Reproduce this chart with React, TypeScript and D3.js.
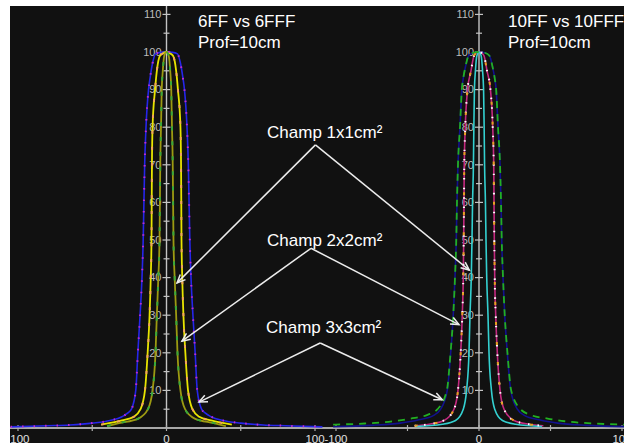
import React from 'react';
import * as d3 from 'd3';

// profiles: off-axis position (mm) vs relative dose (%), depth 10 cm
const ff6_3x3_x = [-105, -80, -65, -50, -38, -30, -26, -23.6, -20.7, -19.3, -17.8, -16.5, -15.7, -15.2, -14.7, -13.8, -12.1, -11.1, -9.4, -7.4, -4, 0, 4, 7.4, 9.4, 11.1, 12.1, 13.8, 14.7, 15.2, 15.7, 16.5, 17.8, 19.3, 20.7, 23.6, 26, 30, 38, 50, 65, 80, 105];
const ff6_3x3_y = [0.3, 0.6, 0.8, 1.3, 2, 3, 4, 5, 10, 20, 30, 40, 50, 60, 70, 80, 90, 93, 97, 99.5, 99.9, 100, 99.9, 99.5, 97, 93, 90, 80, 70, 60, 50, 40, 30, 20, 10, 5, 4, 3, 2, 1.3, 0.8, 0.6, 0.3];

const ff6_2x2_x = [-44, -30, -22, -17.5, -14.5, -12.7, -11.4, -10.6, -10.1, -9.95, -9.8, -9.4, -7.7, -6.5, -4.4, -2.5, 0, 2.5, 4.4, 6.5, 7.7, 9.4, 9.8, 9.95, 10.1, 10.6, 11.4, 12.7, 14.5, 17.5, 22, 30, 44];
const ff6_2x2_y = [0.9, 2, 3, 5, 10, 20, 30, 40, 50, 60, 70, 80, 90, 95, 99, 99.6, 100, 99.6, 99, 95, 90, 80, 70, 60, 50, 40, 30, 20, 10, 5, 3, 2, 0.9];

const ff6_1x1_x = [-40, -32, -19, -12.5, -9.4, -7.4, -6.5, -5.5, -4.7, -4.45, -4.2, -3.7, -3.2, -2.5, -1.5, 0, 1.5, 2.5, 3.2, 3.7, 4.2, 4.45, 4.7, 5.5, 6.5, 7.4, 9.4, 12.5, 19, 32, 40];
const ff6_1x1_y = [0.5, 1.3, 2.5, 5, 10, 20, 30, 40, 50, 60, 70, 80, 90, 95, 99, 100, 99, 95, 90, 80, 70, 60, 50, 40, 30, 20, 10, 5, 2.5, 1.3, 0.5];

const ff10_3x3_x = [-102, -75, -55, -42, -32, -26.8, -22.2, -19.8, -18, -16.8, -15.9, -15.4, -14.7, -13.3, -12, -11, -9.5, -7.3, -4, 0, 4, 7.3, 9.5, 11, 12, 13.3, 14.7, 15.4, 15.9, 16.8, 18, 19.8, 22.2, 26.8, 32, 42, 55, 75, 102];
const ff10_3x3_y = [0.35, 0.7, 1.3, 2.2, 3.3, 5, 10, 20, 30, 40, 50, 60, 70, 80, 90, 93, 96, 99, 99.8, 100, 99.8, 99, 96, 93, 90, 80, 70, 60, 50, 40, 30, 20, 10, 5, 3.3, 2.2, 1.3, 0.7, 0.35];

const fff10_3x3_x = [-102, -80, -60, -48, -36, -29, -22.5, -19.9, -18, -16.8, -15.9, -15.4, -14.7, -13.3, -12, -11, -9.5, -7.3, -4, 0, 4, 7.3, 9.5, 11, 12, 13.3, 14.7, 15.4, 15.9, 16.8, 18, 19.9, 22.5, 29, 36, 48, 60, 80, 102];
const fff10_3x3_y = [0.9, 1.2, 1.8, 2.5, 3.5, 5, 10, 20, 30, 40, 50, 60, 70, 80, 90, 93, 96, 99, 99.8, 100, 99.8, 99, 96, 93, 90, 80, 70, 60, 50, 40, 30, 20, 10, 5, 3.5, 2.5, 1.8, 1.2, 0.9];

const ff10_2x2_x = [-45, -35, -24.5, -17.5, -14.7, -12.8, -11.7, -11, -10.7, -10.5, -10.3, -9.6, -8, -5.6, -3.5, -2, 0, 2, 3.5, 5.6, 8, 9.6, 10.3, 10.5, 10.7, 11, 11.7, 12.8, 14.7, 17.5, 24.5, 35, 45];
const ff10_2x2_y = [0.6, 1, 2, 5, 10, 20, 30, 40, 50, 60, 70, 80, 90, 95, 99, 99.7, 100, 99.7, 99, 95, 90, 80, 70, 60, 50, 40, 30, 20, 10, 5, 2, 1, 0.6];

const ff10_1x1_x = [-44, -25.6, -16.4, -11, -8.7, -7, -6.3, -5.4, -4.9, -4.5, -3.9, -3.6, -3.2, -2.5, -1.5, 0, 1.5, 2.5, 3.2, 3.6, 3.9, 4.5, 4.9, 5.4, 6.3, 7, 8.7, 11, 16.4, 25.6, 44];
const ff10_1x1_y = [0.4, 1, 2, 5, 10, 20, 30, 40, 50, 60, 70, 80, 90, 95, 99, 100, 99, 95, 90, 80, 70, 60, 50, 40, 30, 20, 10, 5, 2, 1, 0.4];

const titles6 = ['6FF vs 6FFF', 'Prof=10cm'];
const titles10 = ['10FF vs 10FFF', 'Prof=10cm'];
const xTickLabels = [-100, 0, 100];
const xTicks = [-100, -50, 0, 50, 100];
const yTicks = d3.range(5, 111, 5);

const W = 624;
const H = 446;
const FONT = '"Liberation Sans", Arial, sans-serif';

const y = d3.scaleLinear().domain([0, 110]).range([428, 14.4]);
const x6 = d3.scaleLinear().domain([-100, 100]).range([18, 315]);
const x10 = d3.scaleLinear().domain([-100, 100]).range([336, 622]);

// FFF curves of the 6 MV panel and the 10 MV 2x2 sit on the FF ones
const series6 = [
  { xs: ff6_3x3_x, ys: ff6_3x3_y, color: '#2626ea', w: 1.6 },
  { xs: ff6_2x2_x, ys: ff6_2x2_y, color: '#e8e400', w: 1.8 },
  { xs: ff6_1x1_x, ys: ff6_1x1_y, color: '#9c9a12', w: 1.8 },
  { xs: ff6_3x3_x, ys: ff6_3x3_y, color: '#c22ccc', w: 2, dash: '1.5 10' },
  { xs: ff6_2x2_x, ys: ff6_2x2_y, color: '#f2a35c', w: 2, dash: '3 13' },
  { xs: ff6_1x1_x, ys: ff6_1x1_y, color: '#38a83a', w: 2, dash: '4 11' },
];

const series10 = [
  { xs: ff10_3x3_x, ys: ff10_3x3_y, color: '#12128e', w: 1.6 },
  { xs: ff10_2x2_x, ys: ff10_2x2_y, color: '#c42a80', w: 1.6 },
  { xs: ff10_1x1_x, ys: ff10_1x1_y, color: '#34d0d0', w: 1.6 },
  { xs: fff10_3x3_x, ys: fff10_3x3_y, color: '#22b022', w: 1.8, dash: '7 6' },
  { xs: ff10_2x2_x, ys: ff10_2x2_y, color: '#ffffff', w: 2, dash: '1.5 8' },
  { xs: ff10_2x2_x, ys: ff10_2x2_y, color: '#e8a020', w: 2, dash: '3 17' },
];

// label and apex in 6 MV panel units, targets in each panel's units
const annotations = [
  { label: 'Champ 1x1cm²', tx: 67.7, ty: 77.1, ax: 100.3, ay: 75.3, left: [7.1, 38.6], right: [-6.8, 42] },
  { label: 'Champ 2x2cm²', tx: 67.7, ty: 48.4, ax: 97.3, ay: 47.8, left: [10.4, 23.1], right: [-14, 27.5] },
  { label: 'Champ 3x3cm²', tx: 67, ty: 25.3, ax: 103.5, ay: 22.6, left: [21.9, 6.9], right: [-25.7, 7.5] },
];

function Arrow({ x1, y1, x2, y2 }) {
  const a = Math.atan2(y2 - y1, x2 - x1);
  const len = 9;
  const sp = 0.42;
  const p1 = [x2 - len * Math.cos(a - sp), y2 - len * Math.sin(a - sp)];
  const p2 = [x2 - len * Math.cos(a + sp), y2 - len * Math.sin(a + sp)];
  return (
    <g stroke="#ececec" strokeWidth={1.5} fill="none">
      <line x1={x1} y1={y1} x2={x2} y2={y2} />
      <polyline points={`${p1.join(',')} ${x2},${y2} ${p2.join(',')}`} />
    </g>
  );
}

function Panel({ x, series, titles, titleX }) {
  const line = d3.line().x((d) => x(d[0])).y((d) => y(d[1])).curve(d3.curveMonotoneX);
  const x0 = x(0);
  return (
    <g>
      <line x1={x0} x2={x0} y1={6} y2={428} stroke="#c4c4c4" strokeWidth={1.4} />
      {yTicks.map((t) => (
        <g key={t}>
          <line x1={x0 - (t % 10 ? 3 : 4)} x2={x0 + (t % 10 ? 3 : 4)} y1={y(t)} y2={y(t)} stroke="#c4c4c4" strokeWidth={1.2} />
          {t % 10 === 0 && (
            <text x={x0 - 5} y={y(t)} dy="0.35em" textAnchor="end" fontSize={11} fill="#bdbdbd" fontFamily={FONT}>{t}</text>
          )}
        </g>
      ))}
      {xTicks.map((t) => (
        <line key={t} x1={x(t)} x2={x(t)} y1={425} y2={431} stroke="#b0b0b0" strokeWidth={1.2} />
      ))}
      {xTickLabels.map((t) => (
        <text key={t} x={x(t)} y={443} textAnchor="middle" fontSize={11.5} fill="#e0e0e0" fontFamily={FONT}>{t}</text>
      ))}
      {series.map((s, i) => (
        <path
          key={i}
          d={line(s.xs.map((v, j) => [v, s.ys[j]]))}
          fill="none"
          stroke={s.color}
          strokeWidth={s.w}
          strokeDasharray={s.dash}
        />
      ))}
      {titles.map((t, i) => (
        <text key={i} x={titleX} y={27 + i * 21} fontSize={17} fill="#ffffff" fontFamily={FONT}>{t}</text>
      ))}
    </g>
  );
}

export default function App() {
  return (
    <div style={{ position: 'fixed', left: 0, top: 0 }}>
      <svg width={W} height={H} style={{ display: 'block' }}>
        <defs>
          <clipPath id="plot">
            <rect x={10} y={6} width={W - 10} height={437} />
          </clipPath>
        </defs>
        <rect width={W} height={H} fill="#ffffff" />
        <rect x={10} y={6} width={W - 10} height={437} fill="#111111" />
        <g clipPath="url(#plot)">
          <line x1={10} x2={W} y1={428} y2={428} stroke="#a8a8a8" strokeWidth={2} />
          <Panel x={x6} series={series6} titles={titles6} titleX={198} />
          <Panel x={x10} series={series10} titles={titles10} titleX={508} />
          {annotations.map((a) => (
            <g key={a.label}>
              <text x={x6(a.tx)} y={y(a.ty)} fontSize={17} fill="#ffffff" fontFamily={FONT}>{a.label}</text>
              <Arrow x1={x6(a.ax)} y1={y(a.ay)} x2={x6(a.left[0])} y2={y(a.left[1])} />
              <Arrow x1={x6(a.ax)} y1={y(a.ay)} x2={x10(a.right[0])} y2={y(a.right[1])} />
            </g>
          ))}
        </g>
      </svg>
    </div>
  );
}
